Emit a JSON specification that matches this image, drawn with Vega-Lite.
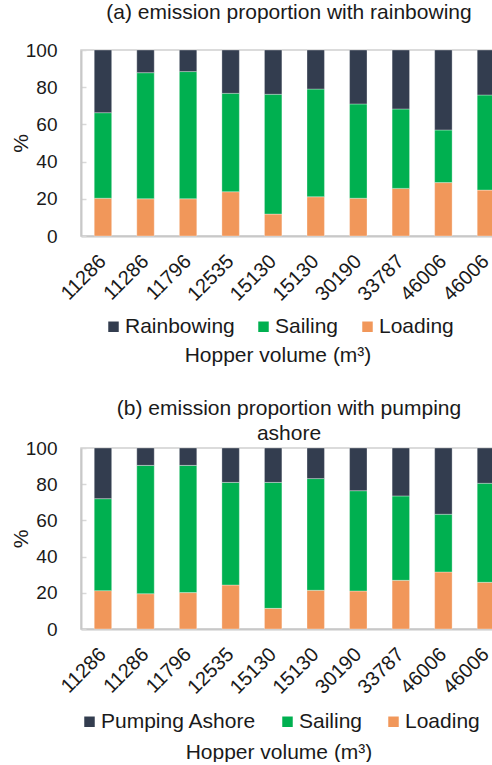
{
  "$schema": "https://vega.github.io/schema/vega-lite/v6.json",
  "padding": {"left": 9, "top": 1, "right": 0, "bottom": 0},
  "spacing": 8,
  "config": {
    "font": "Liberation Sans",
    "view": {"stroke": "#d0d0d0", "strokeWidth": 1.5},
    "title": {"fontSize": 21, "fontWeight": "normal", "color": "#1a1a1a", "offset": 18},
    "axis": {
      "labelFontSize": 19, "labelColor": "#1a1a1a", "titleFontSize": 21, "titleFontWeight": "normal", "titleColor": "#1a1a1a",
      "domainColor": "#c8c8c8", "domainWidth": 2, "tickColor": "#d8d8d8", "tickWidth": 1.5, "grid": false, "zindex": 1
    },
    "legend": {
      "labelFontSize": 21, "labelColor": "#1a1a1a", "titleFontSize": 21, "titleFontWeight": "normal", "titleColor": "#1a1a1a", "titleLimit": 400, "labelLimit": 300
    }
  },
  "datasets": {
    "a": [
      {"vol": "11286_1", "stage": "Loading", "pct": 20.3}, {"vol": "11286_1", "stage": "Sailing", "pct": 46.0}, {"vol": "11286_1", "stage": "Rainbowing", "pct": 33.7},
      {"vol": "11286_2", "stage": "Loading", "pct": 20.0}, {"vol": "11286_2", "stage": "Sailing", "pct": 67.8}, {"vol": "11286_2", "stage": "Rainbowing", "pct": 12.2},
      {"vol": "11796_1", "stage": "Loading", "pct": 20.0}, {"vol": "11796_1", "stage": "Sailing", "pct": 68.4}, {"vol": "11796_1", "stage": "Rainbowing", "pct": 11.6},
      {"vol": "12535_1", "stage": "Loading", "pct": 23.8}, {"vol": "12535_1", "stage": "Sailing", "pct": 52.9}, {"vol": "12535_1", "stage": "Rainbowing", "pct": 23.3},
      {"vol": "15130_1", "stage": "Loading", "pct": 11.8}, {"vol": "15130_1", "stage": "Sailing", "pct": 64.4}, {"vol": "15130_1", "stage": "Rainbowing", "pct": 23.8},
      {"vol": "15130_2", "stage": "Loading", "pct": 21.1}, {"vol": "15130_2", "stage": "Sailing", "pct": 57.9}, {"vol": "15130_2", "stage": "Rainbowing", "pct": 21.0},
      {"vol": "30190_1", "stage": "Loading", "pct": 20.3}, {"vol": "30190_1", "stage": "Sailing", "pct": 50.7}, {"vol": "30190_1", "stage": "Rainbowing", "pct": 29.0},
      {"vol": "33787_1", "stage": "Loading", "pct": 25.6}, {"vol": "33787_1", "stage": "Sailing", "pct": 42.7}, {"vol": "33787_1", "stage": "Rainbowing", "pct": 31.7},
      {"vol": "46006_1", "stage": "Loading", "pct": 28.7}, {"vol": "46006_1", "stage": "Sailing", "pct": 28.3}, {"vol": "46006_1", "stage": "Rainbowing", "pct": 43.0},
      {"vol": "46006_2", "stage": "Loading", "pct": 24.7}, {"vol": "46006_2", "stage": "Sailing", "pct": 51.1}, {"vol": "46006_2", "stage": "Rainbowing", "pct": 24.2}
    ],
    "b": [
      {"vol": "11286_1", "stage": "Loading", "pct": 21.2}, {"vol": "11286_1", "stage": "Sailing", "pct": 50.8}, {"vol": "11286_1", "stage": "Pumping Ashore", "pct": 28.0},
      {"vol": "11286_2", "stage": "Loading", "pct": 19.5}, {"vol": "11286_2", "stage": "Sailing", "pct": 70.9}, {"vol": "11286_2", "stage": "Pumping Ashore", "pct": 9.6},
      {"vol": "11796_1", "stage": "Loading", "pct": 20.1}, {"vol": "11796_1", "stage": "Sailing", "pct": 70.3}, {"vol": "11796_1", "stage": "Pumping Ashore", "pct": 9.6},
      {"vol": "12535_1", "stage": "Loading", "pct": 24.3}, {"vol": "12535_1", "stage": "Sailing", "pct": 56.7}, {"vol": "12535_1", "stage": "Pumping Ashore", "pct": 19.0},
      {"vol": "15130_1", "stage": "Loading", "pct": 11.4}, {"vol": "15130_1", "stage": "Sailing", "pct": 69.6}, {"vol": "15130_1", "stage": "Pumping Ashore", "pct": 19.0},
      {"vol": "15130_2", "stage": "Loading", "pct": 21.4}, {"vol": "15130_2", "stage": "Sailing", "pct": 61.7}, {"vol": "15130_2", "stage": "Pumping Ashore", "pct": 16.9},
      {"vol": "30190_1", "stage": "Loading", "pct": 21.0}, {"vol": "30190_1", "stage": "Sailing", "pct": 55.4}, {"vol": "30190_1", "stage": "Pumping Ashore", "pct": 23.6},
      {"vol": "33787_1", "stage": "Loading", "pct": 26.9}, {"vol": "33787_1", "stage": "Sailing", "pct": 46.6}, {"vol": "33787_1", "stage": "Pumping Ashore", "pct": 26.5},
      {"vol": "46006_1", "stage": "Loading", "pct": 31.5}, {"vol": "46006_1", "stage": "Sailing", "pct": 31.9}, {"vol": "46006_1", "stage": "Pumping Ashore", "pct": 36.6},
      {"vol": "46006_2", "stage": "Loading", "pct": 25.8}, {"vol": "46006_2", "stage": "Sailing", "pct": 54.7}, {"vol": "46006_2", "stage": "Pumping Ashore", "pct": 19.5}
    ]
  },
  "vconcat": [
    {
      "title": "(a) emission proportion with rainbowing",
      "width": 416,
      "height": 186,
      "data": {"name": "a"},
      "transform": [{"calculate": "indexof(['Loading', 'Sailing', 'Rainbowing'], datum.stage)", "as": "ord"}],
      "mark": {"type": "bar", "stroke": "#ffffff", "strokeOpacity": 0.4, "strokeWidth": 0.8},
      "encoding": {
        "x": {"field": "vol", "type": "nominal", "sort": null,
          "scale": {"paddingInner": 0.59, "paddingOuter": 0.183, "align": 0.85},
          "axis": {"title": null, "labelAngle": -45, "labelAlign": "right", "labelBaseline": "middle", "labelFontSize": 20, "labelExpr": "split(datum.label, '_')[0]", "tickSize": -5, "labelPadding": 27}},
        "y": {"field": "pct", "type": "quantitative", "stack": "zero",
          "scale": {"domain": [0, 100]},
          "axis": {"title": "%", "values": [0, 20, 40, 60, 80, 100], "tickSize": -5, "labelPadding": 29, "titlePadding": -6}},
        "order": {"field": "ord", "type": "quantitative"},
        "color": {"field": "stage", "type": "nominal",
          "sort": ["Rainbowing", "Sailing", "Loading"],
          "scale": {"domain": ["Rainbowing", "Sailing", "Loading"], "range": ["#333d4f", "#00b050", "#f1975a"]},
          "legend": {"orient": "bottom", "direction": "horizontal", "padding": 22,
            "title": "Hopper volume (m³)", "titleOrient": "bottom", "titleAnchor": "middle", "titlePadding": 8,
            "symbolType": "square", "symbolSize": 110, "symbolStrokeWidth": 0, "columnPadding": 18, "labelOffset": 1, "offset": -11}}
      }
    },
    {
      "title": {"text": ["(b) emission proportion with pumping", "ashore"], "lineHeight": 25, "offset": -5},
      "width": 416,
      "height": 181,
      "data": {"name": "b"},
      "transform": [{"calculate": "indexof(['Loading', 'Sailing', 'Pumping Ashore'], datum.stage)", "as": "ord"}],
      "mark": {"type": "bar", "stroke": "#ffffff", "strokeOpacity": 0.4, "strokeWidth": 0.8},
      "encoding": {
        "x": {"field": "vol", "type": "nominal", "sort": null,
          "scale": {"paddingInner": 0.59, "paddingOuter": 0.183, "align": 0.85},
          "axis": {"title": null, "labelAngle": -45, "labelAlign": "right", "labelBaseline": "middle", "labelFontSize": 20, "labelExpr": "split(datum.label, '_')[0]", "tickSize": -5, "labelPadding": 27}},
        "y": {"field": "pct", "type": "quantitative", "stack": "zero",
          "scale": {"domain": [0, 100]},
          "axis": {"title": "%", "values": [0, 20, 40, 60, 80, 100], "tickSize": -5, "labelPadding": 29, "titlePadding": -6}},
        "order": {"field": "ord", "type": "quantitative"},
        "color": {"field": "stage", "type": "nominal",
          "sort": ["Pumping Ashore", "Sailing", "Loading"],
          "scale": {"domain": ["Pumping Ashore", "Sailing", "Loading"], "range": ["#333d4f", "#00b050", "#f1975a"]},
          "legend": {"orient": "bottom", "direction": "horizontal", "padding": -2,
            "title": "Hopper volume (m³)", "titleOrient": "bottom", "titleAnchor": "middle", "titlePadding": 10,
            "symbolType": "square", "symbolSize": 110, "symbolStrokeWidth": 0, "columnPadding": 20, "labelOffset": 1, "offset": 15}}
      }
    }
  ],
  "resolve": {"scale": {"color": "independent"}, "legend": {"color": "independent"}}
}
